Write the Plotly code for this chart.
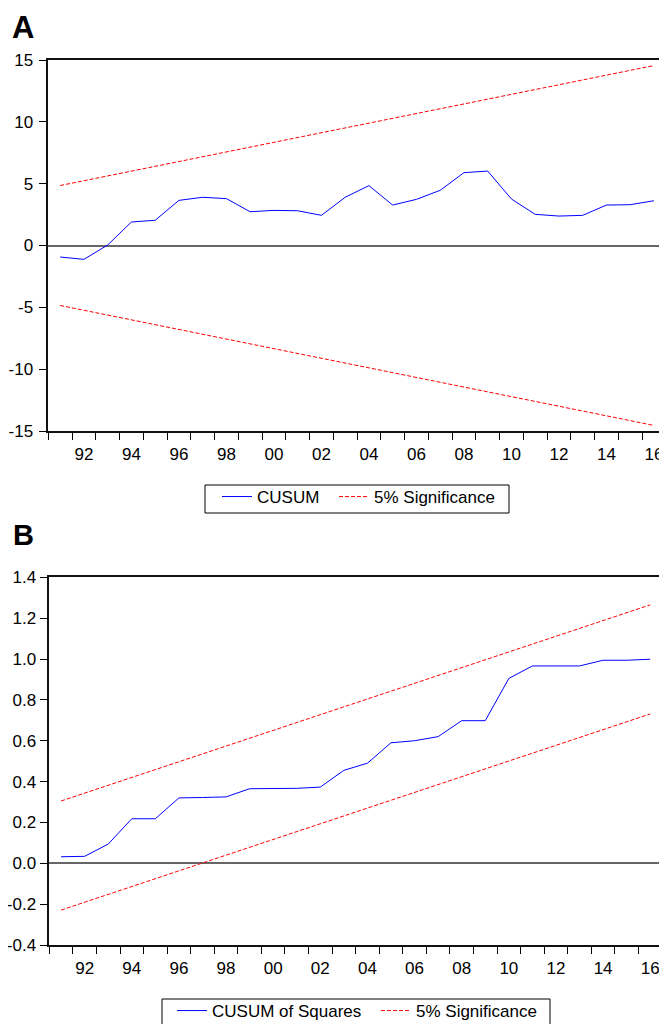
import plotly.graph_objects as go

# ---------------- data ----------------
years = list(range(1991, 2017))

cusum = [-0.93, -1.12, 0.04, 1.90, 2.04, 3.65, 3.90, 3.79, 2.73, 2.84, 2.81, 2.44, 3.90,
         4.84, 3.27, 3.73, 4.46, 5.89, 6.02, 3.76, 2.52, 2.38, 2.44, 3.27, 3.30, 3.62]

cusum_sq = [0.032, 0.034, 0.094, 0.218, 0.218, 0.320, 0.322, 0.325, 0.365, 0.365, 0.367,
            0.373, 0.455, 0.490, 0.590, 0.600, 0.620, 0.698, 0.698, 0.905, 0.966, 0.966,
            0.966, 0.994, 0.994, 0.999]

bound_years = [1991, 2016]
cusum_upper = [4.85, 14.55]
cusum_lower = [-4.85, -14.55]
sq_upper = [0.305, 1.265]
sq_lower = [-0.229, 0.731]

xtick_vals = list(range(1992, 2017, 2))
xtick_text = ["92", "94", "96", "98", "00", "02", "04", "06", "08", "10", "12", "14", "16"]
xminor_vals = [y + 0.5 for y in range(1990, 2017)]

ytick_a_vals = [-15, -10, -5, 0, 5, 10, 15]
ytick_a_text = ["-15", "-10", "-5", "0", "5", "10", "15"]
ytick_b_vals = [-0.4, -0.2, 0.0, 0.2, 0.4, 0.6, 0.8, 1.0, 1.2, 1.4]
ytick_b_text = ["-0.4", "-0.2", "0.0", "0.2", "0.4", "0.6", "0.8", "1.0", "1.2", "1.4"]

# ---------------- figure ----------------
OFF = 8                      # page body margin
W, H = 667 - OFF, 1024 - OFF
FONT = "Liberation Sans, Arial, sans-serif"
BLUE = "#0000FF"
RED = "#FF0000"
DASH = "4px,2px"

def px_x(p):                 # p = window pixel
    return (p - OFF) / W

def px_y(p):
    return 1 - (p - OFF) / H

fig = go.Figure()

# Panel A
fig.add_trace(go.Scatter(x=years, y=cusum, mode="lines", name="CUSUM", showlegend=True,
                         line=dict(color=BLUE, width=1), xaxis="x", yaxis="y", legend="legend"))
fig.add_trace(go.Scatter(x=bound_years, y=cusum_upper, mode="lines", name="5% Significance",
                         showlegend=True,
                         line=dict(color=RED, width=1, dash=DASH), xaxis="x", yaxis="y", legend="legend3"))
fig.add_trace(go.Scatter(x=bound_years, y=cusum_lower, mode="lines", name="5% Significance",
                         showlegend=False,
                         line=dict(color=RED, width=1, dash=DASH), xaxis="x", yaxis="y", legend="legend3"))

# Panel B
fig.add_trace(go.Scatter(x=years, y=cusum_sq, mode="lines", name="CUSUM of Squares",
                         showlegend=True,
                         line=dict(color=BLUE, width=1), xaxis="x2", yaxis="y2", legend="legend2"))
fig.add_trace(go.Scatter(x=bound_years, y=sq_upper, mode="lines", name="5% Significance",
                         showlegend=True,
                         line=dict(color=RED, width=1, dash=DASH), xaxis="x2", yaxis="y2", legend="legend4"))
fig.add_trace(go.Scatter(x=bound_years, y=sq_lower, mode="lines", name="5% Significance",
                         showlegend=False,
                         line=dict(color=RED, width=1, dash=DASH), xaxis="x2", yaxis="y2", legend="legend4"))

tickfont = dict(family=FONT, size=17, color="black")

def xaxis_cfg(left, right, anchor):
    return dict(
        domain=[px_x(left), px_x(right)], anchor=anchor,
        range=[1990.5, 2016.5], tickmode="array", tickvals=xtick_vals, ticktext=xtick_text,
        ticks="outside", ticklen=7, tickcolor="rgba(0,0,0,0)", tickfont=tickfont,
        minor=dict(tickmode="array", tickvals=xminor_vals, ticks="outside", ticklen=7,
                   tickcolor="black", tickwidth=1, showgrid=False),
        showline=True, linecolor="#111", linewidth=1.5, mirror=True,
        showgrid=False, zeroline=False, fixedrange=True,
    )

def yaxis_cfg(top, bottom, anchor, rng, vals, text, standoff):
    return dict(
        domain=[px_y(bottom), px_y(top)], anchor=anchor,
        range=rng, tickmode="array", tickvals=vals, ticktext=text,
        ticks="outside", ticklen=8, tickcolor="black", tickwidth=1, tickfont=tickfont,
        ticklabelstandoff=standoff,
        showline=True, linecolor="#111", linewidth=1.5, mirror=True,
        showgrid=False, zeroline=True, zerolinecolor="#666", zerolinewidth=1.5,
    )

legend_font = dict(family=FONT, size=17, color="black")

def leg(left_px, top_px):
    return dict(orientation="h", x=px_x(left_px), xanchor="left", y=px_y(top_px), yanchor="top",
                borderwidth=0, bgcolor="rgba(0,0,0,0)", font=legend_font, visible=True)

def box(x0, y0, x1, y1):
    return dict(type="rect", xref="paper", yref="paper",
                x0=px_x(x0), x1=px_x(x1), y0=px_y(y1), y1=px_y(y0),
                line=dict(color="black", width=1), fillcolor="rgba(0,0,0,0)", layer="above")

fig.update_layout(
    width=W, height=H,
    showlegend=True,
    margin=dict(l=0, r=0, t=0, b=0, autoexpand=False),
    paper_bgcolor="white", plot_bgcolor="white",
    font=dict(family=FONT, color="black"),
    xaxis=xaxis_cfg(48.3, 665.8, "y"),
    yaxis=yaxis_cfg(60, 431, "x", [-15, 15], ytick_a_vals, ytick_a_text, 2),
    xaxis2=xaxis_cfg(49.3, 662, "y2"),
    yaxis2=yaxis_cfg(577.3, 945, "x2", [-0.4, 1.4], ytick_b_vals, ytick_b_text, 0),
    legend=leg(217, 479),
    legend3=leg(334, 479),
    legend2=leg(172, 993),
    legend4=leg(376, 993),
    shapes=[box(205, 485, 509, 513), box(162, 999, 550, 1030)],
    annotations=[
        dict(text="<b>A</b>", x=px_x(10), y=px_y(8), xref="paper", yref="paper",
             xanchor="left", yanchor="top", showarrow=False,
             font=dict(family=FONT, size=31, color="black")),
        dict(text="<b>B</b>", x=px_x(11), y=px_y(517), xref="paper", yref="paper",
             xanchor="left", yanchor="top", showarrow=False,
             font=dict(family=FONT, size=29, color="black")),
    ],
)

fig.write_html("out.html")
